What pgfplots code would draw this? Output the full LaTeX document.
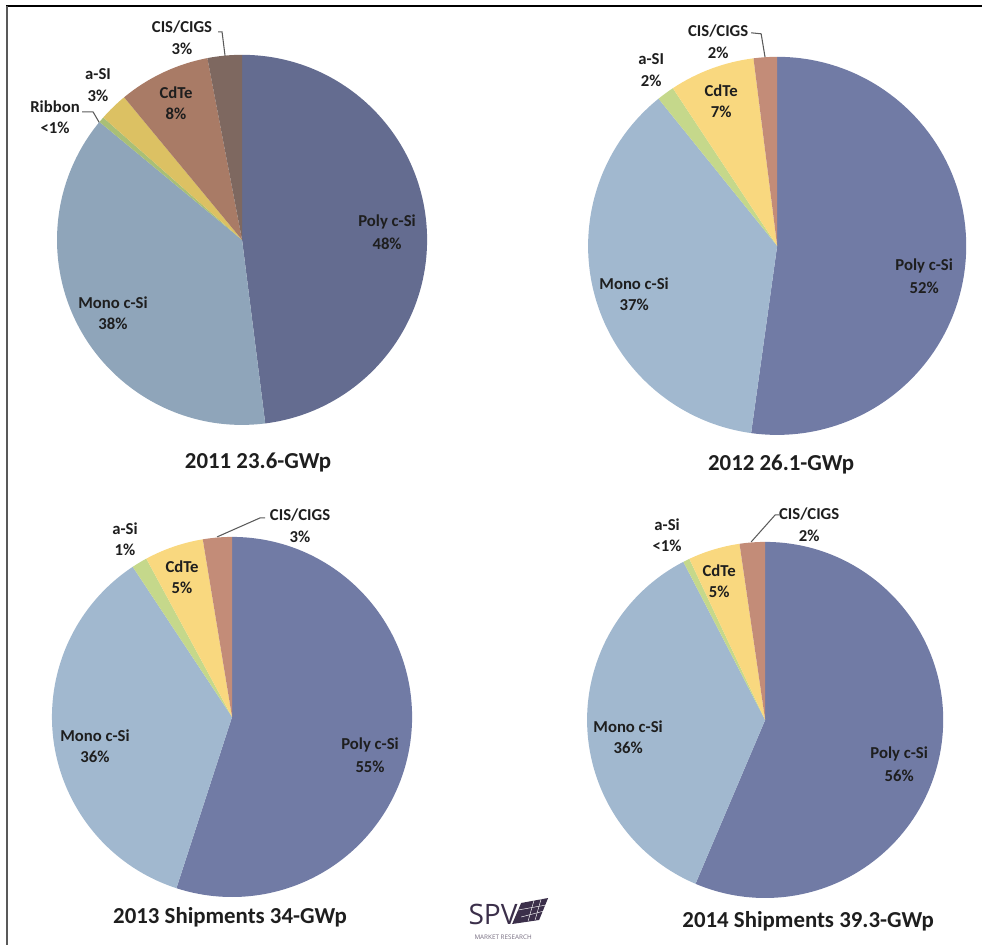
\documentclass[border=0pt]{standalone}
\usepackage{fontspec}
\setmainfont{Carlito}
\newfontfamily\logofont{Open Sans}
\usepackage{pgfplots}
\usepackage{pgfplotstable}
\pgfplotsset{compat=1.18}

% 2011 chart has the faded palette
\definecolor{polyA}{HTML}{646C90}
\definecolor{monoA}{HTML}{8FA5BA}
\definecolor{ribA}{HTML}{A9BF76}
\definecolor{asiA}{HTML}{DCC163}
\definecolor{cdteA}{HTML}{A97B66}
\definecolor{cisA}{HTML}{7E6860}
% 2012-2014 palette
\definecolor{polyB}{HTML}{717BA5}
\definecolor{monoB}{HTML}{A1B8CF}
\definecolor{asiB}{HTML}{C5D88B}
\definecolor{cdteB}{HTML}{F9D87F}
\definecolor{cisB}{HTML}{C38C78}
\definecolor{leader}{HTML}{5A5A5A}
\definecolor{txt}{HTML}{1E1E1E}
\definecolor{logo}{HTML}{3B2F4A}

% a mark that draws nothing, the scatter code does the drawing
\pgfdeclareplotmark{blank}{}

% share in %, slice colour, label text, label position in pixels (y from top)
\pgfplotstableread[col sep=comma]{
share,col,name,pct,lx,ly
48,polyA,Poly c-Si,48,387,233
38,monoA,Mono c-Si,38,113,313
0.5,ribA,Ribbon,<1,55,117
2.5,asiA,a-SI,3,98,85
8,cdteA,CdTe,8,176,103
3,cisA,CIS/CIGS,3,182,38
}\tblA
\pgfplotstableread[col sep=comma]{
share,col,name,pct,lx,ly
52.2,polyB,Poly c-Si,52,924,277
37,monoB,Mono c-Si,37,634,294
1.5,asiB,a-SI,2,651,70
7.3,cdteB,CdTe,7,721,101
2.0,cisB,CIS/CIGS,2,718,42
}\tblB
\pgfplotstableread[col sep=comma]{
share,col,name,pct,lx,ly
55,polyB,Poly c-Si,55,370,756
35.7,monoB,Mono c-Si,36,95,746
1.4,asiB,a-Si,1,125,539
5.3,cdteB,CdTe,5,182,577
2.6,cisB,CIS/CIGS,3,300,526
}\tblC
\pgfplotstableread[col sep=comma]{
share,col,name,pct,lx,ly
56.4,polyB,Poly c-Si,56,899,765
36.0,monoB,Mono c-Si,36,628,737
0.6,asiB,a-Si,<1,667,535
4.7,cdteB,CdTe,5,719,581
2.3,cisB,CIS/CIGS,2,809,525
}\tblD
\pgfplotstablecreatecol[expr accum={\pgfmathaccuma + \thisrow{share}}{0}]{cum}{\tblA}
\pgfplotstablecreatecol[expr accum={\pgfmathaccuma + \thisrow{share}}{0}]{cum}{\tblB}
\pgfplotstablecreatecol[expr accum={\pgfmathaccuma + \thisrow{share}}{0}]{cum}{\tblC}
\pgfplotstablecreatecol[expr accum={\pgfmathaccuma + \thisrow{share}}{0}]{cum}{\tblD}

\pgfplotsset{
  pie slices/.style={
    scatter, only marks, mark=blank,
    point meta=explicit symbolic,
    visualization depends on={90-3.6*(\thisrow{cum}-\thisrow{share}) \as \sa},
    visualization depends on={90-3.6*\thisrow{cum} \as \ea},
    scatter/@pre marker code/.code={
      \fill[fill=\pgfplotspointmeta, draw=none] (0,0) -- ({\sa}:{#1*0.02cm})
        arc[start angle=\sa, end angle=\ea, radius={#1*0.02cm}] -- cycle;
    },
    scatter/@post marker code/.code={},
  },
  % first line (name) or second line (percentage) of a slice label
  pie label/.style={
    scatter, only marks, mark=blank,
    point meta=explicit symbolic,
    scatter/@pre marker code/.code={
      \node[anchor=center, text=txt, inner sep=0pt, draw=none, fill=none,
        font=\bfseries\fontsize{9.5}{12}\selectfont] at (0,#1) {\pgfplotspointmeta\ifdim#1<0pt\%\fi};
    },
    scatter/@post marker code/.code={},
  },
}

\begin{document}
\begin{tikzpicture}
\useasboundingbox (0,0) rectangle (19.64cm,18.9cm);
\begin{axis}[
  at={(0,0)}, anchor=south west,
  hide axis, scale only axis,
  x=0.02cm, y=0.02cm,
  xmin=0, xmax=982, ymin=0, ymax=945,
  clip=false,
]
% slices, pixel centres and radii
\addplot[pie slices=185] table[x expr=242, y expr=945-240, meta=col] {\tblA};
\addplot[pie slices=189] table[x expr=777, y expr=945-246, meta=col] {\tblB};
\addplot[pie slices=180] table[x expr=232, y expr=945-717, meta=col] {\tblC};
\addplot[pie slices=178] table[x expr=765, y expr=945-720, meta=col] {\tblD};

\addplot[pie label=6pt] table[x=lx, y expr=945-\thisrow{ly}, meta=name] {\tblA};
\addplot[pie label=-6pt] table[x=lx, y expr=945-\thisrow{ly}, meta=pct] {\tblA};
\addplot[pie label=6pt] table[x=lx, y expr=945-\thisrow{ly}, meta=name] {\tblB};
\addplot[pie label=-6pt] table[x=lx, y expr=945-\thisrow{ly}, meta=pct] {\tblB};
\addplot[pie label=6pt] table[x=lx, y expr=945-\thisrow{ly}, meta=name] {\tblC};
\addplot[pie label=-6pt] table[x=lx, y expr=945-\thisrow{ly}, meta=pct] {\tblC};
\addplot[pie label=6pt] table[x=lx, y expr=945-\thisrow{ly}, meta=name] {\tblD};
\addplot[pie label=-6pt] table[x=lx, y expr=945-\thisrow{ly}, meta=pct] {\tblD};

% leader lines
\draw[leader, line width=0.6pt] (axis cs:218,913) -- (axis cs:222,913) -- (axis cs:225,889);
\draw[leader, line width=0.6pt] (axis cs:82,833) -- (axis cs:93,833) -- (axis cs:100,821);
\draw[leader, line width=0.6pt] (axis cs:751,912) -- (axis cs:761,911) -- (axis cs:765,887);
\draw[leader, line width=0.6pt] (axis cs:265,427) -- (axis cs:260,427) -- (axis cs:217,408);
\draw[leader, line width=0.6pt] (axis cs:779,430) -- (axis cs:775,430) -- (axis cs:751,403);

% titles
\node[text=txt, font=\bfseries\fontsize{13}{15}\selectfont] at (axis cs:258,482) {2011 23.6-GWp};
\node[text=txt, font=\bfseries\fontsize{13}{15}\selectfont] at (axis cs:781,480) {2012 26.1-GWp};
\node[text=txt, font=\bfseries\fontsize{13}{15}\selectfont] at (axis cs:230,28) {2013 Shipments 34-GWp};
\node[text=txt, font=\bfseries\fontsize{13}{15}\selectfont] at (axis cs:808,24) {2014 Shipments 39.3-GWp};

% frame
\draw[black, line width=1.1pt] (axis cs:6,939) -- (axis cs:982,939);
\draw[gray!70!black, line width=1.1pt] (axis cs:7,939) -- (axis cs:7,0);

% logo
\fill[logo] (axis cs:512,21) -- (axis cs:539,25) -- (axis cs:548,47) -- (axis cs:521,42) -- cycle;
\draw[white, line width=0.25pt] (axis cs:521,28) -- (axis cs:544,34);
\draw[white, line width=0.25pt] (axis cs:518,35) -- (axis cs:546,40);
\draw[white, line width=0.25pt] (axis cs:528,24) -- (axis cs:534,45);
\draw[white, line width=0.25pt] (axis cs:535,25) -- (axis cs:541,46);
\node[text=logo, font=\logofont\fontsize{16}{16}\selectfont, inner sep=0pt] at (axis cs:493,31) {SPV};
\node[text=logo!70, font=\logofont\fontsize{3.6}{4}\selectfont, inner sep=0pt] at (axis cs:503,8) {MARKET RESEARCH};
\end{axis}
\end{tikzpicture}
\end{document}
